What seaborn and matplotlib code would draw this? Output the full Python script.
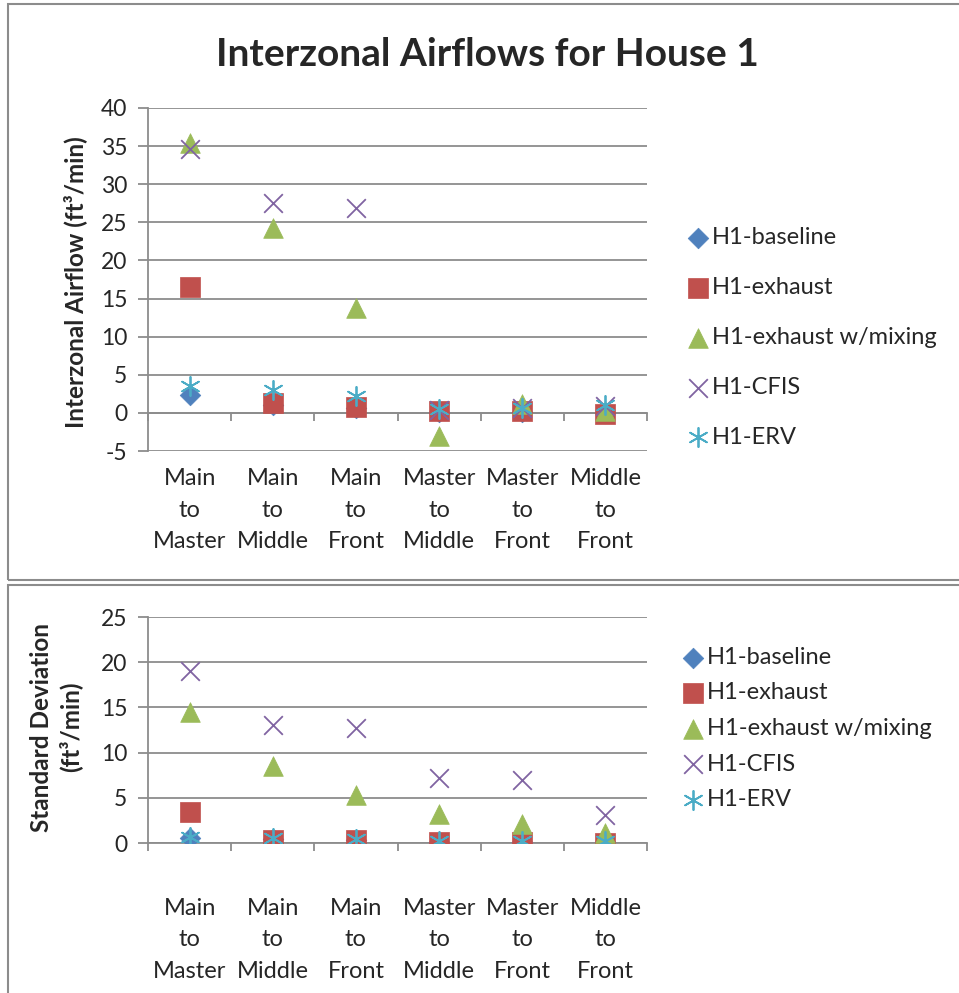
import numpy as np
import pandas as pd
import seaborn as sns
import matplotlib.pyplot as plt
from matplotlib.patches import Rectangle

# categories (room pairs) and series
pairs = ["Main\nto\nMaster", "Main\nto\nMiddle", "Main\nto\nFront",
         "Master\nto\nMiddle", "Master\nto\nFront", "Middle\nto\nFront"]
series_names = ["H1-baseline", "H1-exhaust", "H1-exhaust w/mixing", "H1-CFIS", "H1-ERV"]

# average interzonal airflow, ft3/min
avg_baseline = [2.4, 1.0, 0.6, 0.1, 0.1, 0.0]
avg_exhaust = [16.5, 1.3, 0.8, 0.3, 0.3, -0.1]
avg_mixing = [35.4, 24.3, 13.8, -3.0, 1.2, 0.2]
avg_cfis = [34.6, 27.5, 26.9, 0.4, 0.6, 0.9]
avg_erv = [3.5, 3.0, 2.2, 0.45, 0.65, 1.0]

# standard deviation, ft3/min
sd_baseline = [0.6, 0.4, 0.3, 0.1, 0.1, 0.1]
sd_exhaust = [3.4, 0.3, 0.3, 0.1, 0.1, 0.0]
sd_mixing = [14.5, 8.5, 5.3, 3.2, 2.1, 1.1]
sd_cfis = [19.0, 13.1, 12.7, 7.2, 7.0, 3.05]
sd_erv = [0.7, 0.5, 0.4, 0.2, 0.2, 0.2]

styles = {
    "H1-baseline": dict(marker="D", s=110, color="#4F81BD", edgecolor="#4F81BD", linewidth=0.5),
    "H1-exhaust": dict(marker="s", s=190, color="#C0504D", edgecolor="#C0504D", linewidth=0.5),
    "H1-exhaust w/mixing": dict(marker="^", s=200, color="#9BBB59", edgecolor="#9BBB59", linewidth=0.5),
    "H1-CFIS": dict(marker="x", s=180, color="#8064A2", linewidth=1.3),
    "H1-ERV": dict(marker=(6, 2, 0), s=190, color="#4BACC6", linewidth=1.3),
}


def long_df(cols):
    rows = []
    for name, vals in zip(series_names, cols):
        for i, v in enumerate(vals):
            rows.append({"pos": i, "series": name, "value": v})
    return pd.DataFrame(rows)


df_avg = long_df([avg_baseline, avg_exhaust, avg_mixing, avg_cfis, avg_erv])
df_sd = long_df([sd_baseline, sd_exhaust, sd_mixing, sd_cfis, sd_erv])

sns.set_style("white")
plt.rcParams["font.family"] = ["Lato", "DejaVu Sans"]
plt.rcParams["axes.unicode_minus"] = False
grey = "#8c8c8c"

fig = plt.figure(figsize=(9.59, 9.93), dpi=100)
ax1 = fig.add_axes([148 / 959, 1 - 451 / 993, 499 / 959, 343 / 993])
ax2 = fig.add_axes([148 / 959, 1 - 843 / 993, 499 / 959, 226 / 993])

# рамки панелей
fig.add_artist(Rectangle((8 / 959, 1 - 580 / 993), 1.0, 576 / 993, transform=fig.transFigure,
                         fill=False, ec=grey, lw=1.5))
fig.add_artist(Rectangle((8 / 959, -0.01), 1.0, (993 - 585) / 993 + 0.01, transform=fig.transFigure,
                         fill=False, ec=grey, lw=1.5))


def draw(ax, df, ymin, ymax, label_pad, zero_axis):
    for name in series_names:
        sub = df[df["series"] == name]
        sns.scatterplot(data=sub, x="pos", y="value", ax=ax, label=name, zorder=3,
                        **styles[name])
    ax.set_xlim(-0.5, len(pairs) - 0.5)
    ax.set_ylim(ymin, ymax)
    ax.set_yticks(np.arange(ymin, ymax + 1, 5))
    ax.yaxis.grid(True, color=grey, lw=1.3)
    ax.set_axisbelow(True)
    for s in ["top", "right"]:
        ax.spines[s].set_visible(False)
    ax.spines["left"].set_color(grey)
    ax.spines["left"].set_linewidth(1.3)
    ax.spines["bottom"].set_color(grey)
    ax.spines["bottom"].set_linewidth(1.3)
    if zero_axis:
        ax.spines["bottom"].set_position(("data", 0))
    ax.set_xticks(np.arange(-0.5, len(pairs), 1.0))
    ax.tick_params(axis="x", direction="out", length=6, width=1.3, color=grey, labelbottom=False, bottom=True)
    ax.tick_params(axis="y", direction="out", length=7, width=1.3, color=grey, left=True,
                   labelsize=16.5, pad=8)
    ax.set_xlabel("")
    ax.set_ylabel("")
    sec = ax.secondary_xaxis(0)
    sec.set_xticks(np.arange(len(pairs)), labels=pairs)
    sec.tick_params(length=0, pad=label_pad, labelsize=17)
    sec.spines["bottom"].set_visible(False)
    for t in sec.get_xticklabels():
        t.set_linespacing(1.62)


draw(ax1, df_avg, -5, 40, 12.5, True)
draw(ax2, df_sd, 0, 25, 39.5, False)

ax1.legend(loc="center left", bbox_to_anchor=(687 / 959, 1 - 337.5 / 993), bbox_transform=fig.transFigure,
           frameon=False, fontsize=17, labelspacing=1.22, handletextpad=0.15, handlelength=0.9,
           borderpad=0, borderaxespad=0)
ax2.legend(loc="center left", bbox_to_anchor=(682 / 959, 1 - 728.5 / 993), bbox_transform=fig.transFigure,
           frameon=False, fontsize=17, labelspacing=0.62, handletextpad=0.15, handlelength=0.9,
           borderpad=0, borderaxespad=0)

fig.text(487 / 959, 1 - 55 / 993, "Interzonal Airflows for House 1", ha="center", va="center",
         fontsize=28, fontweight="bold")
fig.text(75 / 959, 1 - 282 / 993, "Interzonal Airflow (ft³/min)", ha="center", va="center",
         rotation=90, fontsize=17.5, fontweight="bold")
fig.text(56 / 959, 1 - 727 / 993, "Standard Deviation\n(ft³/min)", ha="center", va="center",
         rotation=90, fontsize=17.5, fontweight="bold", linespacing=1.25)

fig.savefig("out.png", dpi=100)
